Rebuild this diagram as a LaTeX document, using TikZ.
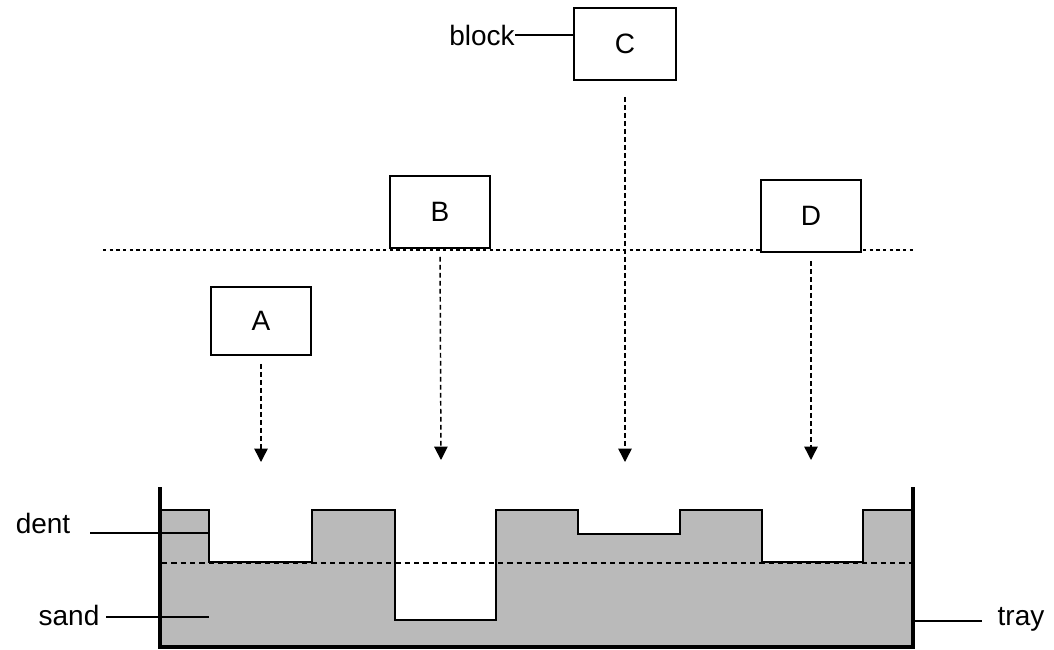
\documentclass[tikz,border=0pt]{standalone}
\usepackage{fontspec}
\setmainfont{Liberation Sans}
\usetikzlibrary{arrows.meta}
\begin{document}
\begin{tikzpicture}[x=0.75pt,y=-0.75pt,
  blockbox/.style={draw,fill=white,line width=1.3pt,inner sep=0pt,font=\fontsize{21}{24}\selectfont},
  lbl/.style={inner sep=0pt,font=\fontsize{21}{24}\selectfont},
  fall/.style={line width=1.1pt,dash pattern=on 3.5pt off 2.5pt,shorten <=6pt,
    -{Triangle[width=10pt,length=10pt]}},
  leader/.style={line width=1.1pt},
  sandfill/.style={fill=black!27},
  profile/.style={line width=2.2pt,line join=miter},
  wall/.style={line width=3.6pt}]
\useasboundingbox (0,0) rectangle (1054,650);

% horizontal dotted reference line
\coordinate (hl1) at (103,250);
\coordinate (hl2) at (915,250);
\draw[line width=1.2pt,dash pattern=on 2.5pt off 2.5pt] (hl1) -- (hl2);

% blocks
\node[blockbox,minimum width=76pt,minimum height=54pt] (C) at (625,44) {C};
\node[blockbox,minimum width=75pt,minimum height=54pt] (B) at (440,212) {B};
\node[blockbox,minimum width=75pt,minimum height=54pt] (D) at (811,216) {D};
\node[blockbox,minimum width=75pt,minimum height=51pt] (A) at (261,321) {A};

% block label
\node[lbl] (blk) at (482,35) {block};
\draw[leader] (blk.east) -- (blk.east -| C.west);

% arrow targets
\coordinate (tA) at (261,462);
\coordinate (tB) at (441,460);
\coordinate (tC) at (625,462);
\coordinate (tD) at (811,460);
\draw[fall] (A.south) -- (tA);
\draw[fall] (B.south) -- (tB);
\draw[fall,shorten <=12pt] (C.south) -- (tC);
\draw[fall] (D.south) -- (tD);

% sand
\fill[sandfill] (162,510) -- (209,510) -- (209,562) -- (312,562) -- (312,510)
  -- (395,510) -- (395,620) -- (496,620) -- (496,510) -- (578,510) -- (578,534)
  -- (680,534) -- (680,510) -- (762,510) -- (762,562) -- (863,562) -- (863,510)
  -- (911,510) -- (911,645) -- (162,645) -- cycle;
\draw[profile] (162,510) -- (209,510) -- (209,562) -- (312,562) -- (312,510)
  -- (395,510) -- (395,620) -- (496,620) -- (496,510) -- (578,510) -- (578,534)
  -- (680,534) -- (680,510) -- (762,510) -- (762,562) -- (863,562) -- (863,510)
  -- (911,510);
% original level
\draw[line width=1pt,dash pattern=on 4pt off 3pt] (162,563) -- (911,563);

% tray
\draw[wall] (160,487) -- (160,647) -- (913,647) -- (913,487);

% labels
\node[lbl] (dent) at (43,523) {dent};
\coordinate (dent1) at (90,533);
\coordinate (dent2) at (209,533);
\draw[leader,line width=1.6pt] (dent1) -- (dent2);

\node[lbl] (sand) at (69,615) {sand};
\coordinate (sand1) at (106,617);
\coordinate (sand2) at (209,617);
\draw[leader,line width=1.6pt] (sand1) -- (sand2);

\node[lbl] (tray) at (1021,619) {tray};
\coordinate (tray1) at (913,621);
\coordinate (tray2) at (982,621);
\draw[leader,line width=1.6pt] (tray1) -- (tray2);
\end{tikzpicture}
\end{document}
